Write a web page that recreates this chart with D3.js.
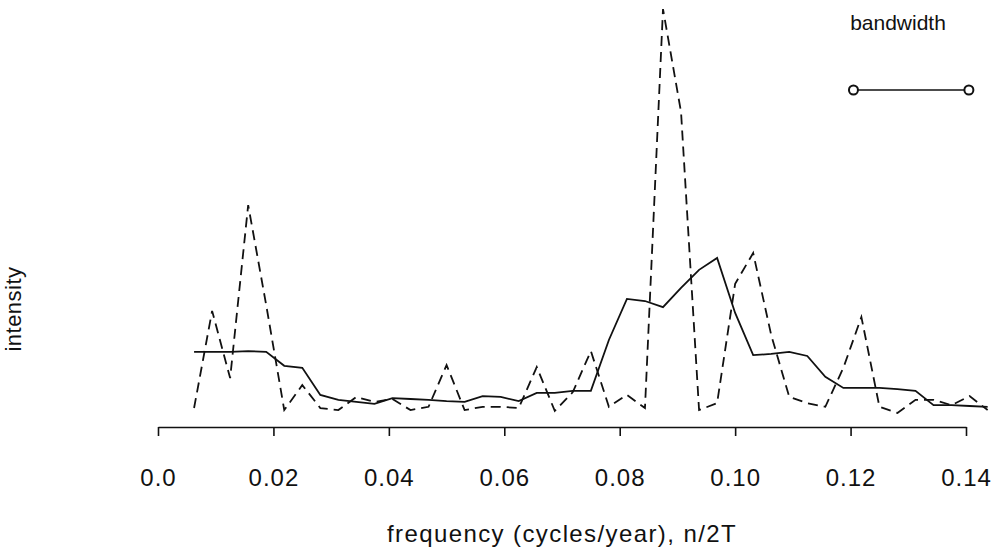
<!DOCTYPE html>
<html>
<head>
<meta charset="utf-8">
<script src="https://cdnjs.cloudflare.com/ajax/libs/d3/7.8.5/d3.min.js"></script>
<style>
  body { margin: 0; background: #fff; }
  text { font-family: "Liberation Sans", Arial, sans-serif; fill: #111; }
</style>
<title>Periodogram</title>
</head>
<body>
<script>
// harmonic index n, frequency = n / 2T with T = 160 years
const harmonics = d3.range(2, 47);
// raw periodogram (dashed line)
const rawIntensity = [1.7, 25.4, 9.0, 51.2, 26.8, 1.2, 7.3, 1.7, 1.2, 4.4,
  3.2, 3.9, 1.2, 2.0, 12.2, 1.2, 2.0, 2.0, 1.7, 11.7,
  1.0, 5.6, 15.6, 2.0, 4.9, 1.7, 99.0, 73.9, 1.2, 2.9,
  32.0, 39.5, 19.5, 4.4, 2.9, 2.0, 11.5, 23.9, 2.0, 0.5,
  3.7, 3.7, 2.4, 4.6, 1.2];
// smoothed spectrum (solid line)
const smoothIntensity = [15.4, 15.4, 15.4, 15.6, 15.4, 12.0, 11.5, 4.9, 3.7, 3.2,
  2.7, 4.1, 3.9, 3.7, 3.4, 3.2, 4.6, 4.4, 3.4, 5.4,
  5.4, 5.9, 5.9, 18.3, 28.3, 27.8, 26.3, 31.0, 35.4, 38.3,
  24.9, 14.6, 14.9, 15.4, 14.4, 9.3, 6.6, 6.6, 6.6, 6.3,
  5.9, 2.4, 2.4, 2.2, 2.0];
const xTicks = [0.0, 0.02, 0.04, 0.06, 0.08, 0.10, 0.12, 0.14];
const xTickLabels = ["0.0", "0.02", "0.04", "0.06", "0.08", "0.10", "0.12", "0.14"];
const bandwidth = [0.1205, 0.1405];

const width = 995, height = 553;
const svg = d3.select("body").append("svg")
  .attr("width", width).attr("height", height);

const x = d3.scaleLinear().domain([0, 0.14]).range([158, 966]);
const y = d3.scaleLinear().domain([0, 100]).range([415, 5]);

const freq = harmonics.map(n => n / 320);

const line = d3.line()
  .x(d => x(d[0]))
  .y(d => y(d[1]));

svg.append("path")
  .datum(freq.map((f, i) => [f, rawIntensity[i]]))
  .attr("d", line)
  .attr("fill", "none")
  .attr("stroke", "#111")
  .attr("stroke-width", 1.8)
  .attr("stroke-dasharray", "10,6");

svg.append("path")
  .datum(freq.map((f, i) => [f, smoothIntensity[i]]))
  .attr("d", line)
  .attr("fill", "none")
  .attr("stroke", "#111")
  .attr("stroke-width", 1.8);

// x axis
const xAxis = d3.axisBottom(x)
  .tickValues(xTicks)
  .tickFormat((d, i) => xTickLabels[i])
  .tickSize(9)
  .tickSizeOuter(0)
  .tickPadding(33);

const gx = svg.append("g")
  .attr("transform", "translate(0,427)")
  .call(xAxis);
gx.select(".domain").attr("stroke", "#111").attr("stroke-width", 1.6);
gx.selectAll(".tick line").attr("stroke", "#111").attr("stroke-width", 1.6);
gx.selectAll(".tick text")
  .attr("font-size", 24)
  .attr("letter-spacing", 1)
  .attr("font-family", "Liberation Sans, Arial, sans-serif")
  .attr("fill", "#111");

// axis titles
svg.append("text")
  .attr("x", 562).attr("y", 542)
  .attr("text-anchor", "middle")
  .attr("font-size", 24)
  .attr("letter-spacing", 1.4)
  .text("frequency (cycles/year), n/2T");

svg.append("text")
  .attr("transform", "translate(21,309) rotate(-90)")
  .attr("text-anchor", "middle")
  .attr("font-size", 22)
  .attr("letter-spacing", 0.5)
  .text("intensity");

// bandwidth marker
svg.append("text")
  .attr("x", 898).attr("y", 30)
  .attr("text-anchor", "middle")
  .attr("font-size", 21)
  .text("bandwidth");

svg.append("line")
  .attr("x1", x(bandwidth[0])).attr("x2", x(bandwidth[1]))
  .attr("y1", 90).attr("y2", 90)
  .attr("stroke", "#111").attr("stroke-width", 1.5);

svg.selectAll("circle.bw")
  .data(bandwidth)
  .join("circle")
  .attr("class", "bw")
  .attr("cx", d => x(d)).attr("cy", 90).attr("r", 4.5)
  .attr("fill", "#fff")
  .attr("stroke", "#111").attr("stroke-width", 2);
</script>
</body>
</html>
